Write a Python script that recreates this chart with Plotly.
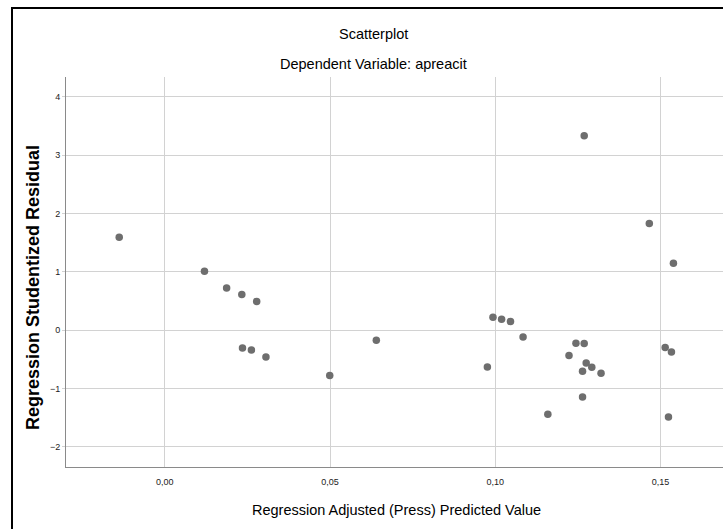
import plotly.graph_objects as go

# Regression Adjusted (Press) Predicted Value
pred = [-0.0138, 0.0120, 0.0187, 0.0233, 0.0278, 0.0235, 0.0262, 0.0306, 0.0499, 0.0640,
        0.1269, 0.1466, 0.1539, 0.0993, 0.1019, 0.1046, 0.1084, 0.1244, 0.1269, 0.1223,
        0.1275, 0.1292, 0.1264, 0.1320, 0.0976, 0.1264, 0.1159, 0.1524, 0.1514, 0.1533]
# Regression Studentized Residual
resid = [1.594, 1.011, 0.725, 0.612, 0.492, -0.303, -0.337, -0.457, -0.777, -0.171,
         3.331, 1.829, 1.149, 0.223, 0.189, 0.149, -0.114, -0.223, -0.229, -0.434,
         -0.560, -0.634, -0.703, -0.737, -0.629, -1.143, -1.440, -1.486, -0.297, -0.371]

x_ticks = [0.0, 0.05, 0.10, 0.15]
y_ticks = [-2, -1, 0, 1, 2, 3, 4]

W, H = 723, 529
L, R, T, B = 66, 0, 77, 62
pw, ph = W - L - R, H - T - B

def px(x):
    return (x - L) / pw

def py(y):
    return (H - B - y) / ph

FONT = "Liberation Sans, Arial, sans-serif"

fig = go.Figure()
fig.add_trace(go.Scatter(
    x=pred, y=resid, mode="markers",
    marker=dict(size=7.5, color="#6e6e6e", line=dict(width=0)),
    hoverinfo="x+y", showlegend=False,
))

fig.update_layout(
    width=W, height=H,
    margin=dict(l=L, r=R, t=T, b=B),
    paper_bgcolor="white", plot_bgcolor="white",
    separators=",.",
    font=dict(family=FONT, color="#000000"),
    xaxis=dict(
        range=[-0.0299, 0.1689], tickvals=x_ticks, tickformat=".2f",
        showgrid=True, gridcolor="#d2d2d2", gridwidth=1,
        zeroline=False, showline=True, linecolor="#8a8a8a", linewidth=1,
        ticks="", tickfont=dict(size=9, color="#222"),
        ticklabelstandoff=6,
    ),
    yaxis=dict(
        range=[-2.343, 4.338], tickvals=y_ticks, tickformat="d",
        showgrid=True, gridcolor="#d2d2d2", gridwidth=1,
        zeroline=False, showline=True, linecolor="#8a8a8a", linewidth=1,
        ticks="outside", ticklen=3, tickcolor="#d2d2d2",
        tickfont=dict(size=9, color="#222"),
    ),
    annotations=[
        dict(text="Scatterplot", x=px(373), y=py(34), xref="paper", yref="paper",
             showarrow=False, font=dict(size=14.5, color="#000"), xanchor="center", yanchor="middle"),
        dict(text="Dependent Variable: apreacit", x=px(373), y=py(64), xref="paper", yref="paper",
             showarrow=False, font=dict(size=14.5, color="#000"), xanchor="center", yanchor="middle"),
        dict(text="Regression Adjusted (Press) Predicted Value", x=px(396), y=py(510),
             xref="paper", yref="paper", showarrow=False,
             font=dict(size=14.5, color="#000"), xanchor="center", yanchor="middle"),
        dict(text="<b>Regression Studentized Residual</b>", x=px(33), y=py(288),
             xref="paper", yref="paper", showarrow=False, textangle=-90,
             font=dict(size=18, color="#000"), xanchor="center", yanchor="middle"),
    ],
    shapes=[
        dict(type="line", xref="paper", yref="paper", x0=px(11), x1=px(W + 2), y0=py(8), y1=py(8),
             line=dict(color="#000", width=2)),
        dict(type="line", xref="paper", yref="paper", x0=px(12), x1=px(12), y0=py(7), y1=py(H + 2),
             line=dict(color="#000", width=2)),
    ],
)

fig.write_html("out.html", config={"displayModeBar": False},
               post_script="document.body.style.margin='0';")
